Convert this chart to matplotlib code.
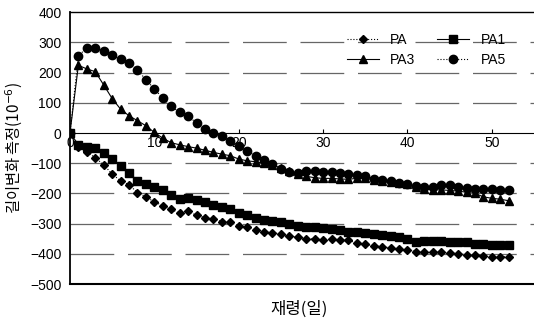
import matplotlib.pyplot as plt

plt.rcParams['font.family'] = ['Noto Sans CJK KR', 'DejaVu Sans']

days = list(range(0, 53))

pa = [0, -45, -62, -82, -105, -136, -158, -171, -197, -211,
      -228, -240, -252, -266, -259, -272, -280, -285, -293, -296,
      -307, -312, -321, -327, -330, -334, -340, -345, -349, -351,
      -354, -351, -354, -354, -365, -367, -373, -376, -380, -384,
      -387, -392, -395, -395, -395, -396, -400, -402, -405, -408,
      -409, -409, -409]

pa1 = [0, -38, -45, -51, -65, -85, -109, -132, -158, -169,
       -177, -188, -205, -218, -215, -222, -229, -238, -245, -253,
       -264, -272, -280, -289, -292, -296, -301, -307, -310, -312,
       -315, -318, -321, -326, -329, -332, -334, -338, -341, -344,
       -351, -360, -358, -358, -358, -359, -360, -362, -367, -368,
       -369, -370, -370]

pa3 = [0, 224, 212, 203, 159, 114, 79, 57, 41, 24,
       2, -17, -32, -39, -45, -50, -57, -64, -70, -75,
       -86, -92, -95, -100, -107, -115, -125, -135, -143, -148,
       -150, -150, -152, -153, -150, -150, -155, -158, -162, -166,
       -170, -178, -186, -188, -188, -190, -192, -196, -200, -211,
       -216, -219, -224]

pa5 = [0, 255, 282, 282, 271, 257, 244, 231, 209, 176,
       146, 115, 89, 68, 55, 34, 14, 1, -10, -28,
       -43, -59, -75, -89, -102, -118, -129, -132, -127, -127,
       -130, -130, -133, -135, -139, -142, -151, -154, -158, -164,
       -168, -174, -177, -177, -173, -173, -177, -181, -184, -184,
       -184, -187, -190]

fig = plt.figure(figsize=(5.34, 3.27), dpi=100)
ax = fig.add_axes([0.131, 0.131, 0.869, 0.832])

ax.plot(days, pa, color="black", lw=0.8, ls=":", marker="D", ms=4.5, label="PA")
ax.plot(days, pa3, color="black", lw=0.8, ls="-", marker="^", ms=5.5, label="PA3")
ax.plot(days, pa1, color="black", lw=0.8, ls="-", marker="s", ms=5.5, label="PA1")
ax.plot(days, pa5, color="black", lw=0.8, ls=":", marker="o", ms=6, label="PA5")

ax.set_xlim(0, 55)
ax.set_ylim(-500, 400)
ax.set_yticks(range(-500, 401, 100))
ax.set_xticks([0, 10, 20, 30, 40, 50])

# horizontal grid, long dashes
for y in range(-400, 400, 100):
    if y != 0:
        ax.axhline(y, color="#666666", lw=0.9, ls=(0, (35, 11)), zorder=0)

ax.spines['bottom'].set_position(('data', 0))
ax.spines['bottom'].set_linewidth(0.8)
ax.spines['right'].set_visible(False)
ax.spines['left'].set_linewidth(1.3)
ax.spines['top'].set_linewidth(1.0)
ax.axhline(-500, color="black", lw=1.5, clip_on=False)

ax.tick_params(axis='x', direction='in', length=3, pad=2, labelsize=10)
ax.tick_params(axis='y', length=0, pad=6, labelsize=10)
for lab in ax.get_xticklabels() + ax.get_yticklabels():
    lab.set_family(['Liberation Sans', 'DejaVu Sans'])

ax.set_ylabel("길이변화 측정(10$^{-6}$)", fontsize=11, labelpad=4)
fig.text(0.56, 0.055, "재령(일)", fontsize=12, ha="center", va="center")

ax.legend(ncol=2, loc="upper left", bbox_to_anchor=(0.57, 0.97), frameon=False,
          handlelength=2.3, columnspacing=1.6, labelspacing=0.45,
          prop={'family': 'Liberation Sans', 'size': 10})

plt.savefig("out.png")
